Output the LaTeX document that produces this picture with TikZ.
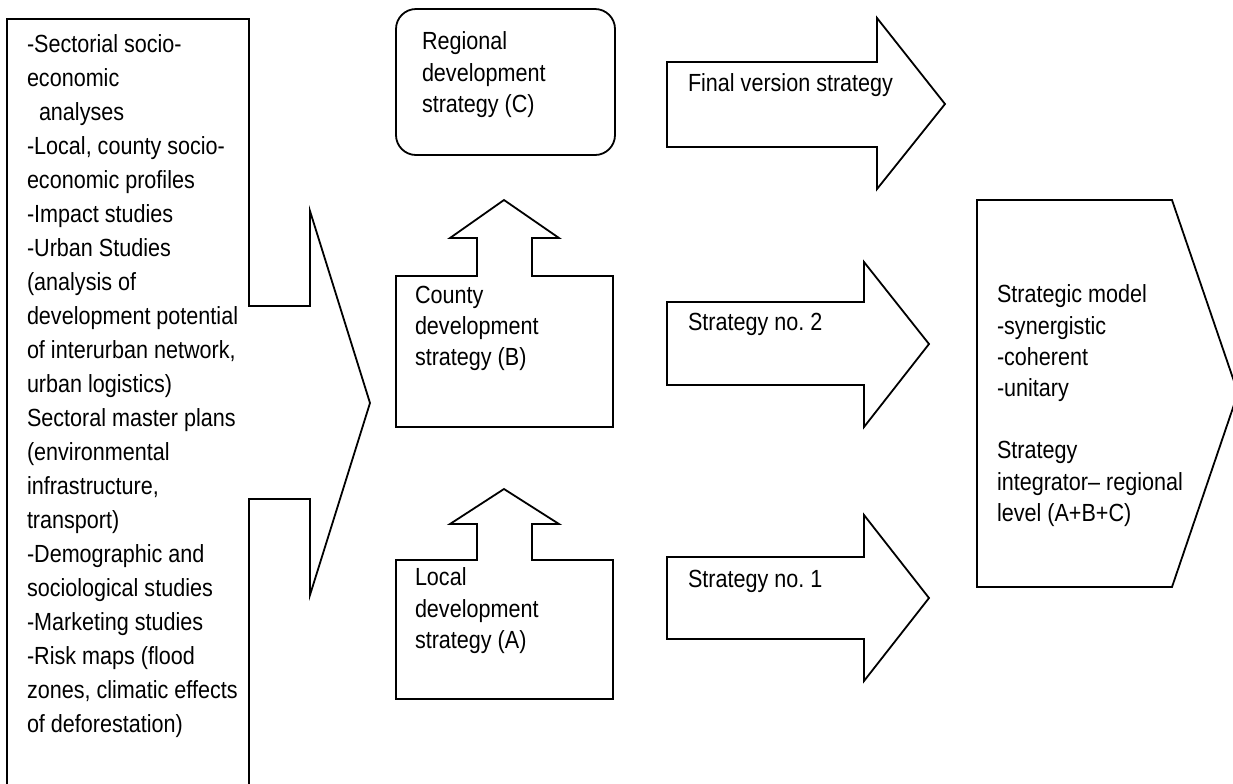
\documentclass[tikz,border=0pt]{standalone}
\usepackage{fontspec}
\setmainfont{Liberation Sans}[FakeStretch=0.87]
\frenchspacing

\begin{document}
\begin{tikzpicture}
[x=0.5pt,y=-0.5pt,
 every node/.style={inner sep=0pt,outer sep=0pt,anchor=north west,align=left},
 src/.style={font=\fontsize{12.4}{17}\selectfont},
 lbl/.style={font=\fontsize{12.4}{15.6}\selectfont},
 blk/.style={draw=black,line width=0.9pt,line join=miter}]
\useasboundingbox (0,0) rectangle (1233,783);

% sources, open at the bottom
\draw[blk] (7,800) -- (7,19) -- (249,19) -- (249,306) -- (310,306) -- (310,211)
  -- (370,403) -- (310,595) -- (310,499) -- (249,499) -- (249,800);
\node[src] (srctxt) at (27,35) {-Sectorial socio-\\economic\\\hspace*{6pt}analyses\\-Local, county socio-\\economic profiles\\-Impact studies\\-Urban Studies\\(analysis of\\development potential\\of interurban network,\\urban logistics)\\Sectoral master plans\\(environmental\\infrastructure,\\transport)\\-Demographic and\\sociological studies\\-Marketing studies\\-Risk maps (flood\\zones, climatic effects\\of deforestation)};

% strategy levels
\draw[blk,rounded corners=10pt] (396,9) rectangle (615,155);
\draw[blk] (396,427) -- (396,276) -- (477,276) -- (477,238) -- (450,238) -- (504,200)
  -- (559,238) -- (532,238) -- (532,276) -- (613,276) -- (613,427) -- cycle;
\draw[blk] (396,699) -- (396,560) -- (477,560) -- (477,524) -- (450,524) -- (504,489)
  -- (559,524) -- (532,524) -- (532,560) -- (613,560) -- (613,699) -- cycle;
\node[lbl] (regtxt) at (422,32)  {Regional\\development\\strategy (C)};
\node[lbl] (cnttxt) at (415,286) {County\\development\\strategy (B)};
\node[lbl] (loctxt) at (415,568) {Local\\development\\strategy (A)};

% outputs
\draw[blk] (667,62) -- (877,62) -- (877,18) -- (945,104) -- (877,189) -- (877,147) -- (667,147) -- cycle;
\draw[blk] (667,302) -- (864,302) -- (864,262) -- (929,344) -- (864,427) -- (864,385) -- (667,385) -- cycle;
\draw[blk] (667,557) -- (864,557) -- (864,515) -- (929,598) -- (864,681) -- (864,639) -- (667,639) -- cycle;
\node[lbl] (fintxt) at (688,74)  {Final version strategy};
\node[lbl] (s2txt)  at (688,313) {Strategy no. 2};
\node[lbl] (s1txt)  at (688,570) {Strategy no. 1};

% model
\draw[blk] (977,200) -- (1172,200) -- (1238,393) -- (1172,587) -- (977,587) -- cycle;
\node[lbl] (modtxt) at (997,285) {Strategic model\\-synergistic\\-coherent\\-unitary\\[15.6pt]Strategy\\integrator– regional\\level (A+B+C)};
\end{tikzpicture}
\end{document}
